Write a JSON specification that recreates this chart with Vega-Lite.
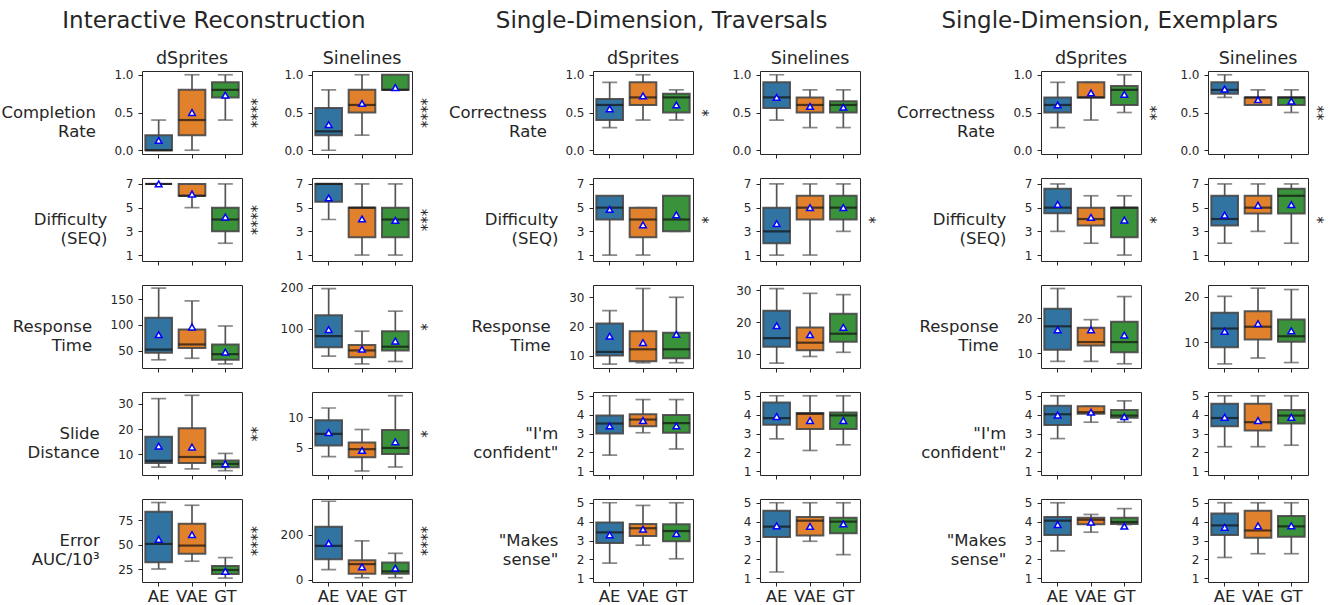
{
"$schema": "https://vega.github.io/schema/vega-lite/v6.json",
"padding": {"left": 0, "top": 9, "right": 2, "bottom": 2},
"spacing": 19,
"datasets": {"b": [
{"k":"1d1","m":"AE","lo":0,"q1":0,"med":0,"q3":0.2,"hi":0.4,"mean":0.13},
{"k":"1d1","m":"VAE","lo":0,"q1":0.2,"med":0.4,"q3":0.8,"hi":1.0,"mean":0.5},
{"k":"1d1","m":"GT","lo":0.4,"q1":0.7,"med":0.8,"q3":0.9,"hi":1.0,"mean":0.73},
{"k":"1s1","m":"AE","lo":0,"q1":0.2,"med":0.25,"q3":0.56,"hi":0.8,"mean":0.34},
{"k":"1s1","m":"VAE","lo":0.2,"q1":0.5,"med":0.6,"q3":0.8,"hi":1.0,"mean":0.62},
{"k":"1s1","m":"GT","lo":0.8,"q1":0.8,"med":0.8,"q3":1.0,"hi":1.0,"mean":0.83},
{"k":"1d2","m":"AE","lo":7,"q1":7,"med":7,"q3":7,"hi":7,"mean":7},
{"k":"1d2","m":"VAE","lo":5,"q1":6,"med":6,"q3":7,"hi":7,"mean":6.15},
{"k":"1d2","m":"GT","lo":2,"q1":3,"med":4,"q3":5,"hi":7,"mean":4.2},
{"k":"1s2","m":"AE","lo":4,"q1":5.5,"med":7,"q3":7,"hi":7,"mean":5.82},
{"k":"1s2","m":"VAE","lo":1,"q1":2.5,"med":5,"q3":5,"hi":7,"mean":4.05},
{"k":"1s2","m":"GT","lo":1,"q1":2.5,"med":4,"q3":5,"hi":7,"mean":3.92},
{"k":"1d3","m":"AE","lo":32,"q1":46,"med":52,"q3":114,"hi":172,"mean":81},
{"k":"1d3","m":"VAE","lo":35,"q1":55,"med":62,"q3":91,"hi":147,"mean":96},
{"k":"1d3","m":"GT","lo":24,"q1":32,"med":43,"q3":62,"hi":98,"mean":47},
{"k":"1s3","m":"AE","lo":33,"q1":55,"med":82,"q3":133,"hi":198,"mean":98},
{"k":"1s3","m":"VAE","lo":14,"q1":30,"med":47,"q3":60,"hi":94,"mean":50},
{"k":"1s3","m":"GT","lo":20,"q1":47,"med":56,"q3":94,"hi":143,"mean":70},
{"k":"1d4","m":"AE","lo":5,"q1":6.6,"med":7.5,"q3":17,"hi":32,"mean":13.3},
{"k":"1d4","m":"VAE","lo":4.3,"q1":6.6,"med":9,"q3":20.3,"hi":33.3,"mean":12.9},
{"k":"1d4","m":"GT","lo":3.6,"q1":5,"med":6.3,"q3":7.6,"hi":10.4,"mean":6.3},
{"k":"1s4","m":"AE","lo":3.6,"q1":5.4,"med":7.3,"q3":9.5,"hi":11.5,"mean":7.5},
{"k":"1s4","m":"VAE","lo":1.25,"q1":3.5,"med":4.8,"q3":5.9,"hi":8,"mean":4.6},
{"k":"1s4","m":"GT","lo":1.9,"q1":4,"med":5,"q3":7.9,"hi":13.5,"mean":6},
{"k":"1d5","m":"AE","lo":25.3,"q1":32.3,"med":51,"q3":84,"hi":93.4,"mean":55.8},
{"k":"1d5","m":"VAE","lo":33.3,"q1":41,"med":49.3,"q3":71.6,"hi":90.6,"mean":60.5},
{"k":"1d5","m":"GT","lo":16,"q1":20.2,"med":24.3,"q3":28.4,"hi":37,"mean":23},
{"k":"1s5","m":"AE","lo":46,"q1":92,"med":151,"q3":235,"hi":348,"mean":163},
{"k":"1s5","m":"VAE","lo":10,"q1":27,"med":70,"q3":87,"hi":173,"mean":58},
{"k":"1s5","m":"GT","lo":10,"q1":28,"med":38,"q3":77,"hi":118,"mean":52},
{"k":"2d1","m":"AE","lo":0.3,"q1":0.4,"med":0.6,"q3":0.68,"hi":0.9,"mean":0.55},
{"k":"2d1","m":"VAE","lo":0.4,"q1":0.6,"med":0.7,"q3":0.9,"hi":1.0,"mean":0.72},
{"k":"2d1","m":"GT","lo":0.4,"q1":0.5,"med":0.7,"q3":0.75,"hi":0.8,"mean":0.6},
{"k":"2s1","m":"AE","lo":0.4,"q1":0.56,"med":0.7,"q3":0.9,"hi":1.0,"mean":0.7},
{"k":"2s1","m":"VAE","lo":0.3,"q1":0.5,"med":0.6,"q3":0.7,"hi":0.8,"mean":0.58},
{"k":"2s1","m":"GT","lo":0.3,"q1":0.5,"med":0.6,"q3":0.65,"hi":0.8,"mean":0.57},
{"k":"2d2","m":"AE","lo":1,"q1":4,"med":5,"q3":6,"hi":6,"mean":4.85},
{"k":"2d2","m":"VAE","lo":1,"q1":2.5,"med":4,"q3":5,"hi":5,"mean":3.55},
{"k":"2d2","m":"GT","lo":3,"q1":3,"med":4,"q3":6,"hi":6,"mean":4.4},
{"k":"2s2","m":"AE","lo":1,"q1":2,"med":3,"q3":5,"hi":7,"mean":3.65},
{"k":"2s2","m":"VAE","lo":1,"q1":4,"med":5,"q3":6,"hi":7,"mean":5},
{"k":"2s2","m":"GT","lo":3,"q1":4,"med":5,"q3":6,"hi":7,"mean":5},
{"k":"2d3","m":"AE","lo":7.1,"q1":10.1,"med":11.3,"q3":21,"hi":25.4,"mean":16.7},
{"k":"2d3","m":"VAE","lo":7.6,"q1":8.1,"med":12.2,"q3":18.4,"hi":33,"mean":14.5},
{"k":"2d3","m":"GT","lo":7.6,"q1":9.1,"med":12.2,"q3":17.9,"hi":30,"mean":17.3},
{"k":"2s3","m":"AE","lo":7.2,"q1":12.3,"med":15,"q3":23.6,"hi":30.5,"mean":18.9},
{"k":"2s3","m":"VAE","lo":9.3,"q1":11.2,"med":13.6,"q3":18.3,"hi":29,"mean":16.1},
{"k":"2s3","m":"GT","lo":10.6,"q1":13.9,"med":16.4,"q3":22.6,"hi":28.6,"mean":18.4},
{"k":"2d4","m":"AE","lo":1.85,"q1":3,"med":3.53,"q3":3.95,"hi":5,"mean":3.4},
{"k":"2d4","m":"VAE","lo":3.04,"q1":3.38,"med":3.74,"q3":4.02,"hi":4.8,"mean":3.69},
{"k":"2d4","m":"GT","lo":2.18,"q1":3.04,"med":3.55,"q3":3.98,"hi":4.8,"mean":3.4},
{"k":"2s4","m":"AE","lo":2.72,"q1":3.47,"med":3.82,"q3":4.64,"hi":5,"mean":3.9},
{"k":"2s4","m":"VAE","lo":2.1,"q1":3.24,"med":4.04,"q3":4.09,"hi":5,"mean":3.69},
{"k":"2s4","m":"GT","lo":2.4,"q1":3.24,"med":3.96,"q3":4.11,"hi":5,"mean":3.69},
{"k":"2d5","m":"AE","lo":1.8,"q1":2.87,"med":3.43,"q3":3.96,"hi":5,"mean":3.3},
{"k":"2d5","m":"VAE","lo":2.75,"q1":3.24,"med":3.65,"q3":3.87,"hi":4.86,"mean":3.6},
{"k":"2d5","m":"GT","lo":2.03,"q1":2.96,"med":3.5,"q3":3.86,"hi":5,"mean":3.36},
{"k":"2s5","m":"AE","lo":1.33,"q1":3.18,"med":3.74,"q3":4.58,"hi":5,"mean":3.78},
{"k":"2s5","m":"VAE","lo":2.96,"q1":3.27,"med":4.05,"q3":4.24,"hi":5,"mean":3.75},
{"k":"2s5","m":"GT","lo":2.25,"q1":3.38,"med":4,"q3":4.2,"hi":5,"mean":3.88},
{"k":"3d1","m":"AE","lo":0.3,"q1":0.5,"med":0.6,"q3":0.7,"hi":0.9,"mean":0.6},
{"k":"3d1","m":"VAE","lo":0.4,"q1":0.7,"med":0.7,"q3":0.9,"hi":0.9,"mean":0.76},
{"k":"3d1","m":"GT","lo":0.5,"q1":0.6,"med":0.8,"q3":0.85,"hi":1.0,"mean":0.74},
{"k":"3s1","m":"AE","lo":0.7,"q1":0.75,"med":0.8,"q3":0.9,"hi":1.0,"mean":0.81},
{"k":"3s1","m":"VAE","lo":0.6,"q1":0.6,"med":0.7,"q3":0.7,"hi":0.8,"mean":0.67},
{"k":"3s1","m":"GT","lo":0.5,"q1":0.6,"med":0.7,"q3":0.7,"hi":0.8,"mean":0.65},
{"k":"3d2","m":"AE","lo":3,"q1":4.52,"med":5,"q3":6.6,"hi":7,"mean":5.28},
{"k":"3d2","m":"VAE","lo":2,"q1":3.5,"med":4.04,"q3":5,"hi":6,"mean":4.18},
{"k":"3d2","m":"GT","lo":1,"q1":2.5,"med":5,"q3":5,"hi":6,"mean":3.96},
{"k":"3s2","m":"AE","lo":2,"q1":3.5,"med":4.04,"q3":6,"hi":7,"mean":4.38},
{"k":"3s2","m":"VAE","lo":3,"q1":4.5,"med":5,"q3":6,"hi":7,"mean":5.2},
{"k":"3s2","m":"GT","lo":2,"q1":4.5,"med":6,"q3":6.6,"hi":7,"mean":5.25},
{"k":"3d3","m":"AE","lo":7.7,"q1":11,"med":17.7,"q3":22.7,"hi":28.5,"mean":16.7},
{"k":"3d3","m":"VAE","lo":7.7,"q1":12.2,"med":13.2,"q3":17.3,"hi":19.6,"mean":16.7},
{"k":"3d3","m":"GT","lo":7,"q1":10.3,"med":13.2,"q3":19,"hi":26.2,"mean":15.2},
{"k":"3s3","m":"AE","lo":5.2,"q1":8.9,"med":13,"q3":16.5,"hi":20.1,"mean":12.4},
{"k":"3s3","m":"VAE","lo":6.5,"q1":10.6,"med":13.4,"q3":16.8,"hi":21.9,"mean":14.1},
{"k":"3s3","m":"GT","lo":5.5,"q1":10.1,"med":11.3,"q3":15,"hi":21.6,"mean":12.5},
{"k":"3d4","m":"AE","lo":2.73,"q1":3.45,"med":4.02,"q3":4.47,"hi":5,"mean":3.98},
{"k":"3d4","m":"VAE","lo":3.6,"q1":4.05,"med":4.13,"q3":4.45,"hi":4.45,"mean":4.13},
{"k":"3d4","m":"GT","lo":3.6,"q1":3.84,"med":3.95,"q3":4.24,"hi":4.73,"mean":3.89},
{"k":"3s4","m":"AE","lo":2.3,"q1":3.38,"med":3.82,"q3":4.58,"hi":5,"mean":3.86},
{"k":"3s4","m":"VAE","lo":2.3,"q1":3.16,"med":3.6,"q3":4.58,"hi":5,"mean":3.69},
{"k":"3s4","m":"GT","lo":2.38,"q1":3.53,"med":3.95,"q3":4.24,"hi":5,"mean":3.86},
{"k":"3d5","m":"AE","lo":2.45,"q1":3.29,"med":4.05,"q3":4.25,"hi":5,"mean":3.84},
{"k":"3d5","m":"VAE","lo":3.44,"q1":3.86,"med":4.1,"q3":4.2,"hi":4.38,"mean":3.98},
{"k":"3d5","m":"GT","lo":3.84,"q1":3.87,"med":3.98,"q3":4.2,"hi":4.69,"mean":3.76},
{"k":"3s5","m":"AE","lo":2.1,"q1":3.29,"med":3.8,"q3":4.43,"hi":5,"mean":3.7},
{"k":"3s5","m":"VAE","lo":2.3,"q1":3.14,"med":3.53,"q3":4.58,"hi":5,"mean":3.78},
{"k":"3s5","m":"GT","lo":2.3,"q1":3.2,"med":3.75,"q3":4.3,"hi":5,"mean":3.78}
]},
"data": {"name": "b"},
"hconcat": [
{"title": {"text": "Interactive Reconstruction", "fontSize": 23, "anchor": "middle", "offset": 17},
 "columns": 2, "bounds": "flush", "spacing": {"row": 24, "column": 70},
 "concat": [
 {"width":100,"height":83,"title":{"text":"dSprites","fontSize":17.5,"offset":1},"transform":[{"filter":"datum.k==='1d1'"}],"encoding":{"x":{"field":"m","type":"nominal","sort":["AE","VAE","GT"],"scale":{"paddingInner":0,"paddingOuter":0},"axis":{"title":null,"labels":false}}},"layer":[
  {"mark":"rule","encoding":{"y":{"field":"lo","type":"quantitative","scale":{"domain":[-0.05,1.05],"nice":false,"zero":false},"axis":{"values":[0,0.5,1],"format":".1f","title":["Completion","Rate"]}},"y2":{"field":"hi"}}},
  {"mark":{"type":"bar","width":{"band":0.8}},"encoding":{"y":{"field":"q1","type":"quantitative","axis":null},"y2":{"field":"q3"},"color":{"field":"m","type":"nominal","scale":{"domain":["AE","VAE","GT"],"range":["#3274a1","#e1812c","#3a923a"]},"legend":null}}},
  {"mark":"tick","encoding":{"y":{"field":"lo","type":"quantitative","axis":null}}},
  {"mark":"tick","encoding":{"y":{"field":"hi","type":"quantitative","axis":null}}},
  {"mark":{"type":"tick","color":"#111111","size":27,"thickness":2.2},"encoding":{"y":{"field":"med","type":"quantitative","axis":null}}},
  {"mark":"point","encoding":{"y":{"field":"mean","type":"quantitative","axis":{"orient":"right","title":"****"}}}}
 ],"resolve":{"axis":{"y":"independent"}}},
 {"width":100,"height":83,"title":{"text":"Sinelines","fontSize":17.5,"offset":1},"transform":[{"filter":"datum.k==='1s1'"}],"encoding":{"x":{"field":"m","type":"nominal","sort":["AE","VAE","GT"],"scale":{"paddingInner":0,"paddingOuter":0},"axis":{"title":null,"labels":false}}},"layer":[
  {"mark":"rule","encoding":{"y":{"field":"lo","type":"quantitative","scale":{"domain":[-0.05,1.05],"nice":false,"zero":false},"axis":{"values":[0,0.5,1],"format":".1f","title":null}},"y2":{"field":"hi"}}},
  {"mark":{"type":"bar","width":{"band":0.8}},"encoding":{"y":{"field":"q1","type":"quantitative","axis":null},"y2":{"field":"q3"},"color":{"field":"m","type":"nominal","scale":{"domain":["AE","VAE","GT"],"range":["#3274a1","#e1812c","#3a923a"]},"legend":null}}},
  {"mark":"tick","encoding":{"y":{"field":"lo","type":"quantitative","axis":null}}},
  {"mark":"tick","encoding":{"y":{"field":"hi","type":"quantitative","axis":null}}},
  {"mark":{"type":"tick","color":"#111111","size":27,"thickness":2.2},"encoding":{"y":{"field":"med","type":"quantitative","axis":null}}},
  {"mark":"point","encoding":{"y":{"field":"mean","type":"quantitative","axis":{"orient":"right","title":"****"}}}}
 ],"resolve":{"axis":{"y":"independent"}}},
 {"width":100,"height":83,"transform":[{"filter":"datum.k==='1d2'"}],"encoding":{"x":{"field":"m","type":"nominal","sort":["AE","VAE","GT"],"scale":{"paddingInner":0,"paddingOuter":0},"axis":{"title":null,"labels":false}}},"layer":[
  {"mark":"rule","encoding":{"y":{"field":"lo","type":"quantitative","scale":{"domain":[0.5,7.5],"nice":false,"zero":false},"axis":{"values":[1,3,5,7],"title":["Difficulty","(SEQ)"]}},"y2":{"field":"hi"}}},
  {"mark":{"type":"bar","width":{"band":0.8}},"encoding":{"y":{"field":"q1","type":"quantitative","axis":null},"y2":{"field":"q3"},"color":{"field":"m","type":"nominal","scale":{"domain":["AE","VAE","GT"],"range":["#3274a1","#e1812c","#3a923a"]},"legend":null}}},
  {"mark":"tick","encoding":{"y":{"field":"lo","type":"quantitative","axis":null}}},
  {"mark":"tick","encoding":{"y":{"field":"hi","type":"quantitative","axis":null}}},
  {"mark":{"type":"tick","color":"#111111","size":27,"thickness":2.2},"encoding":{"y":{"field":"med","type":"quantitative","axis":null}}},
  {"mark":"point","encoding":{"y":{"field":"mean","type":"quantitative","axis":{"orient":"right","title":"****"}}}}
 ],"resolve":{"axis":{"y":"independent"}}},
 {"width":100,"height":83,"transform":[{"filter":"datum.k==='1s2'"}],"encoding":{"x":{"field":"m","type":"nominal","sort":["AE","VAE","GT"],"scale":{"paddingInner":0,"paddingOuter":0},"axis":{"title":null,"labels":false}}},"layer":[
  {"mark":"rule","encoding":{"y":{"field":"lo","type":"quantitative","scale":{"domain":[0.5,7.5],"nice":false,"zero":false},"axis":{"values":[1,3,5,7],"title":null}},"y2":{"field":"hi"}}},
  {"mark":{"type":"bar","width":{"band":0.8}},"encoding":{"y":{"field":"q1","type":"quantitative","axis":null},"y2":{"field":"q3"},"color":{"field":"m","type":"nominal","scale":{"domain":["AE","VAE","GT"],"range":["#3274a1","#e1812c","#3a923a"]},"legend":null}}},
  {"mark":"tick","encoding":{"y":{"field":"lo","type":"quantitative","axis":null}}},
  {"mark":"tick","encoding":{"y":{"field":"hi","type":"quantitative","axis":null}}},
  {"mark":{"type":"tick","color":"#111111","size":27,"thickness":2.2},"encoding":{"y":{"field":"med","type":"quantitative","axis":null}}},
  {"mark":"point","encoding":{"y":{"field":"mean","type":"quantitative","axis":{"orient":"right","title":"***"}}}}
 ],"resolve":{"axis":{"y":"independent"}}},
 {"width":100,"height":83,"transform":[{"filter":"datum.k==='1d3'"}],"encoding":{"x":{"field":"m","type":"nominal","sort":["AE","VAE","GT"],"scale":{"paddingInner":0,"paddingOuter":0},"axis":{"title":null,"labels":false}}},"layer":[
  {"mark":"rule","encoding":{"y":{"field":"lo","type":"quantitative","scale":{"domain":[16,178],"nice":false,"zero":false},"axis":{"values":[50,100,150],"title":["Response","Time"]}},"y2":{"field":"hi"}}},
  {"mark":{"type":"bar","width":{"band":0.8}},"encoding":{"y":{"field":"q1","type":"quantitative","axis":null},"y2":{"field":"q3"},"color":{"field":"m","type":"nominal","scale":{"domain":["AE","VAE","GT"],"range":["#3274a1","#e1812c","#3a923a"]},"legend":null}}},
  {"mark":"tick","encoding":{"y":{"field":"lo","type":"quantitative","axis":null}}},
  {"mark":"tick","encoding":{"y":{"field":"hi","type":"quantitative","axis":null}}},
  {"mark":{"type":"tick","color":"#111111","size":27,"thickness":2.2},"encoding":{"y":{"field":"med","type":"quantitative","axis":null}}},
  {"mark":"point","encoding":{"y":{"field":"mean","type":"quantitative","axis":null}}}
 ],"resolve":{"axis":{"y":"independent"}}},
 {"width":100,"height":83,"transform":[{"filter":"datum.k==='1s3'"}],"encoding":{"x":{"field":"m","type":"nominal","sort":["AE","VAE","GT"],"scale":{"paddingInner":0,"paddingOuter":0},"axis":{"title":null,"labels":false}}},"layer":[
  {"mark":"rule","encoding":{"y":{"field":"lo","type":"quantitative","scale":{"domain":[4,207],"nice":false,"zero":false},"axis":{"values":[100,200],"title":null}},"y2":{"field":"hi"}}},
  {"mark":{"type":"bar","width":{"band":0.8}},"encoding":{"y":{"field":"q1","type":"quantitative","axis":null},"y2":{"field":"q3"},"color":{"field":"m","type":"nominal","scale":{"domain":["AE","VAE","GT"],"range":["#3274a1","#e1812c","#3a923a"]},"legend":null}}},
  {"mark":"tick","encoding":{"y":{"field":"lo","type":"quantitative","axis":null}}},
  {"mark":"tick","encoding":{"y":{"field":"hi","type":"quantitative","axis":null}}},
  {"mark":{"type":"tick","color":"#111111","size":27,"thickness":2.2},"encoding":{"y":{"field":"med","type":"quantitative","axis":null}}},
  {"mark":"point","encoding":{"y":{"field":"mean","type":"quantitative","axis":{"orient":"right","title":"*"}}}}
 ],"resolve":{"axis":{"y":"independent"}}},
 {"width":100,"height":83,"transform":[{"filter":"datum.k==='1d4'"}],"encoding":{"x":{"field":"m","type":"nominal","sort":["AE","VAE","GT"],"scale":{"paddingInner":0,"paddingOuter":0},"axis":{"title":null,"labels":false}}},"layer":[
  {"mark":"rule","encoding":{"y":{"field":"lo","type":"quantitative","scale":{"domain":[1.9,34.6],"nice":false,"zero":false},"axis":{"values":[10,20,30],"title":["Slide","Distance"]}},"y2":{"field":"hi"}}},
  {"mark":{"type":"bar","width":{"band":0.8}},"encoding":{"y":{"field":"q1","type":"quantitative","axis":null},"y2":{"field":"q3"},"color":{"field":"m","type":"nominal","scale":{"domain":["AE","VAE","GT"],"range":["#3274a1","#e1812c","#3a923a"]},"legend":null}}},
  {"mark":"tick","encoding":{"y":{"field":"lo","type":"quantitative","axis":null}}},
  {"mark":"tick","encoding":{"y":{"field":"hi","type":"quantitative","axis":null}}},
  {"mark":{"type":"tick","color":"#111111","size":27,"thickness":2.2},"encoding":{"y":{"field":"med","type":"quantitative","axis":null}}},
  {"mark":"point","encoding":{"y":{"field":"mean","type":"quantitative","axis":{"orient":"right","title":"**"}}}}
 ],"resolve":{"axis":{"y":"independent"}}},
 {"width":100,"height":83,"transform":[{"filter":"datum.k==='1s4'"}],"encoding":{"x":{"field":"m","type":"nominal","sort":["AE","VAE","GT"],"scale":{"paddingInner":0,"paddingOuter":0},"axis":{"title":null,"labels":false}}},"layer":[
  {"mark":"rule","encoding":{"y":{"field":"lo","type":"quantitative","scale":{"domain":[0.6,14.1],"nice":false,"zero":false},"axis":{"values":[5,10],"title":null}},"y2":{"field":"hi"}}},
  {"mark":{"type":"bar","width":{"band":0.8}},"encoding":{"y":{"field":"q1","type":"quantitative","axis":null},"y2":{"field":"q3"},"color":{"field":"m","type":"nominal","scale":{"domain":["AE","VAE","GT"],"range":["#3274a1","#e1812c","#3a923a"]},"legend":null}}},
  {"mark":"tick","encoding":{"y":{"field":"lo","type":"quantitative","axis":null}}},
  {"mark":"tick","encoding":{"y":{"field":"hi","type":"quantitative","axis":null}}},
  {"mark":{"type":"tick","color":"#111111","size":27,"thickness":2.2},"encoding":{"y":{"field":"med","type":"quantitative","axis":null}}},
  {"mark":"point","encoding":{"y":{"field":"mean","type":"quantitative","axis":{"orient":"right","title":"*"}}}}
 ],"resolve":{"axis":{"y":"independent"}}},
 {"width":100,"height":83,"transform":[{"filter":"datum.k==='1d5'"}],"encoding":{"x":{"field":"m","type":"nominal","sort":["AE","VAE","GT"],"scale":{"paddingInner":0,"paddingOuter":0},"axis":{"title":null}}},"layer":[
  {"mark":"rule","encoding":{"y":{"field":"lo","type":"quantitative","scale":{"domain":[12,97],"nice":false,"zero":false},"axis":{"values":[25,50,75],"title":["Error","AUC/10³"]}},"y2":{"field":"hi"}}},
  {"mark":{"type":"bar","width":{"band":0.8}},"encoding":{"y":{"field":"q1","type":"quantitative","axis":null},"y2":{"field":"q3"},"color":{"field":"m","type":"nominal","scale":{"domain":["AE","VAE","GT"],"range":["#3274a1","#e1812c","#3a923a"]},"legend":null}}},
  {"mark":"tick","encoding":{"y":{"field":"lo","type":"quantitative","axis":null}}},
  {"mark":"tick","encoding":{"y":{"field":"hi","type":"quantitative","axis":null}}},
  {"mark":{"type":"tick","color":"#111111","size":27,"thickness":2.2},"encoding":{"y":{"field":"med","type":"quantitative","axis":null}}},
  {"mark":"point","encoding":{"y":{"field":"mean","type":"quantitative","axis":{"orient":"right","title":"****"}}}}
 ],"resolve":{"axis":{"y":"independent"}}},
 {"width":100,"height":83,"transform":[{"filter":"datum.k==='1s5'"}],"encoding":{"x":{"field":"m","type":"nominal","sort":["AE","VAE","GT"],"scale":{"paddingInner":0,"paddingOuter":0},"axis":{"title":null}}},"layer":[
  {"mark":"rule","encoding":{"y":{"field":"lo","type":"quantitative","scale":{"domain":[-9,358],"nice":false,"zero":false},"axis":{"values":[0,200],"title":null}},"y2":{"field":"hi"}}},
  {"mark":{"type":"bar","width":{"band":0.8}},"encoding":{"y":{"field":"q1","type":"quantitative","axis":null},"y2":{"field":"q3"},"color":{"field":"m","type":"nominal","scale":{"domain":["AE","VAE","GT"],"range":["#3274a1","#e1812c","#3a923a"]},"legend":null}}},
  {"mark":"tick","encoding":{"y":{"field":"lo","type":"quantitative","axis":null}}},
  {"mark":"tick","encoding":{"y":{"field":"hi","type":"quantitative","axis":null}}},
  {"mark":{"type":"tick","color":"#111111","size":27,"thickness":2.2},"encoding":{"y":{"field":"med","type":"quantitative","axis":null}}},
  {"mark":"point","encoding":{"y":{"field":"mean","type":"quantitative","axis":{"orient":"right","title":"****"}}}}
 ],"resolve":{"axis":{"y":"independent"}}}
 ]},
{"title": {"text": "Single-Dimension, Traversals", "fontSize": 23, "anchor": "middle", "offset": 17},
 "columns": 2, "bounds": "flush", "spacing": {"row": 24, "column": 67},
 "concat": [
 {"width":100,"height":83,"title":{"text":"dSprites","fontSize":17.5,"offset":1},"transform":[{"filter":"datum.k==='2d1'"}],"encoding":{"x":{"field":"m","type":"nominal","sort":["AE","VAE","GT"],"scale":{"paddingInner":0,"paddingOuter":0},"axis":{"title":null,"labels":false}}},"layer":[
  {"mark":"rule","encoding":{"y":{"field":"lo","type":"quantitative","scale":{"domain":[-0.05,1.05],"nice":false,"zero":false},"axis":{"values":[0,0.5,1],"format":".1f","title":["Correctness","Rate"]}},"y2":{"field":"hi"}}},
  {"mark":{"type":"bar","width":{"band":0.8}},"encoding":{"y":{"field":"q1","type":"quantitative","axis":null},"y2":{"field":"q3"},"color":{"field":"m","type":"nominal","scale":{"domain":["AE","VAE","GT"],"range":["#3274a1","#e1812c","#3a923a"]},"legend":null}}},
  {"mark":"tick","encoding":{"y":{"field":"lo","type":"quantitative","axis":null}}},
  {"mark":"tick","encoding":{"y":{"field":"hi","type":"quantitative","axis":null}}},
  {"mark":{"type":"tick","color":"#111111","size":27,"thickness":2.2},"encoding":{"y":{"field":"med","type":"quantitative","axis":null}}},
  {"mark":"point","encoding":{"y":{"field":"mean","type":"quantitative","axis":{"orient":"right","title":"*"}}}}
 ],"resolve":{"axis":{"y":"independent"}}},
 {"width":100,"height":83,"title":{"text":"Sinelines","fontSize":17.5,"offset":1},"transform":[{"filter":"datum.k==='2s1'"}],"encoding":{"x":{"field":"m","type":"nominal","sort":["AE","VAE","GT"],"scale":{"paddingInner":0,"paddingOuter":0},"axis":{"title":null,"labels":false}}},"layer":[
  {"mark":"rule","encoding":{"y":{"field":"lo","type":"quantitative","scale":{"domain":[-0.05,1.05],"nice":false,"zero":false},"axis":{"values":[0,0.5,1],"format":".1f","title":null}},"y2":{"field":"hi"}}},
  {"mark":{"type":"bar","width":{"band":0.8}},"encoding":{"y":{"field":"q1","type":"quantitative","axis":null},"y2":{"field":"q3"},"color":{"field":"m","type":"nominal","scale":{"domain":["AE","VAE","GT"],"range":["#3274a1","#e1812c","#3a923a"]},"legend":null}}},
  {"mark":"tick","encoding":{"y":{"field":"lo","type":"quantitative","axis":null}}},
  {"mark":"tick","encoding":{"y":{"field":"hi","type":"quantitative","axis":null}}},
  {"mark":{"type":"tick","color":"#111111","size":27,"thickness":2.2},"encoding":{"y":{"field":"med","type":"quantitative","axis":null}}},
  {"mark":"point","encoding":{"y":{"field":"mean","type":"quantitative","axis":null}}}
 ],"resolve":{"axis":{"y":"independent"}}},
 {"width":100,"height":83,"transform":[{"filter":"datum.k==='2d2'"}],"encoding":{"x":{"field":"m","type":"nominal","sort":["AE","VAE","GT"],"scale":{"paddingInner":0,"paddingOuter":0},"axis":{"title":null,"labels":false}}},"layer":[
  {"mark":"rule","encoding":{"y":{"field":"lo","type":"quantitative","scale":{"domain":[0.5,7.5],"nice":false,"zero":false},"axis":{"values":[1,3,5,7],"title":["Difficulty","(SEQ)"]}},"y2":{"field":"hi"}}},
  {"mark":{"type":"bar","width":{"band":0.8}},"encoding":{"y":{"field":"q1","type":"quantitative","axis":null},"y2":{"field":"q3"},"color":{"field":"m","type":"nominal","scale":{"domain":["AE","VAE","GT"],"range":["#3274a1","#e1812c","#3a923a"]},"legend":null}}},
  {"mark":"tick","encoding":{"y":{"field":"lo","type":"quantitative","axis":null}}},
  {"mark":"tick","encoding":{"y":{"field":"hi","type":"quantitative","axis":null}}},
  {"mark":{"type":"tick","color":"#111111","size":27,"thickness":2.2},"encoding":{"y":{"field":"med","type":"quantitative","axis":null}}},
  {"mark":"point","encoding":{"y":{"field":"mean","type":"quantitative","axis":{"orient":"right","title":"*"}}}}
 ],"resolve":{"axis":{"y":"independent"}}},
 {"width":100,"height":83,"transform":[{"filter":"datum.k==='2s2'"}],"encoding":{"x":{"field":"m","type":"nominal","sort":["AE","VAE","GT"],"scale":{"paddingInner":0,"paddingOuter":0},"axis":{"title":null,"labels":false}}},"layer":[
  {"mark":"rule","encoding":{"y":{"field":"lo","type":"quantitative","scale":{"domain":[0.5,7.5],"nice":false,"zero":false},"axis":{"values":[1,3,5,7],"title":null}},"y2":{"field":"hi"}}},
  {"mark":{"type":"bar","width":{"band":0.8}},"encoding":{"y":{"field":"q1","type":"quantitative","axis":null},"y2":{"field":"q3"},"color":{"field":"m","type":"nominal","scale":{"domain":["AE","VAE","GT"],"range":["#3274a1","#e1812c","#3a923a"]},"legend":null}}},
  {"mark":"tick","encoding":{"y":{"field":"lo","type":"quantitative","axis":null}}},
  {"mark":"tick","encoding":{"y":{"field":"hi","type":"quantitative","axis":null}}},
  {"mark":{"type":"tick","color":"#111111","size":27,"thickness":2.2},"encoding":{"y":{"field":"med","type":"quantitative","axis":null}}},
  {"mark":"point","encoding":{"y":{"field":"mean","type":"quantitative","axis":{"orient":"right","title":"*"}}}}
 ],"resolve":{"axis":{"y":"independent"}}},
 {"width":100,"height":83,"transform":[{"filter":"datum.k==='2d3'"}],"encoding":{"x":{"field":"m","type":"nominal","sort":["AE","VAE","GT"],"scale":{"paddingInner":0,"paddingOuter":0},"axis":{"title":null,"labels":false}}},"layer":[
  {"mark":"rule","encoding":{"y":{"field":"lo","type":"quantitative","scale":{"domain":[5.8,34.2],"nice":false,"zero":false},"axis":{"values":[10,20,30],"title":["Response","Time"]}},"y2":{"field":"hi"}}},
  {"mark":{"type":"bar","width":{"band":0.8}},"encoding":{"y":{"field":"q1","type":"quantitative","axis":null},"y2":{"field":"q3"},"color":{"field":"m","type":"nominal","scale":{"domain":["AE","VAE","GT"],"range":["#3274a1","#e1812c","#3a923a"]},"legend":null}}},
  {"mark":"tick","encoding":{"y":{"field":"lo","type":"quantitative","axis":null}}},
  {"mark":"tick","encoding":{"y":{"field":"hi","type":"quantitative","axis":null}}},
  {"mark":{"type":"tick","color":"#111111","size":27,"thickness":2.2},"encoding":{"y":{"field":"med","type":"quantitative","axis":null}}},
  {"mark":"point","encoding":{"y":{"field":"mean","type":"quantitative","axis":null}}}
 ],"resolve":{"axis":{"y":"independent"}}},
 {"width":100,"height":83,"transform":[{"filter":"datum.k==='2s3'"}],"encoding":{"x":{"field":"m","type":"nominal","sort":["AE","VAE","GT"],"scale":{"paddingInner":0,"paddingOuter":0},"axis":{"title":null,"labels":false}}},"layer":[
  {"mark":"rule","encoding":{"y":{"field":"lo","type":"quantitative","scale":{"domain":[5.7,31.6],"nice":false,"zero":false},"axis":{"values":[10,20,30],"title":null}},"y2":{"field":"hi"}}},
  {"mark":{"type":"bar","width":{"band":0.8}},"encoding":{"y":{"field":"q1","type":"quantitative","axis":null},"y2":{"field":"q3"},"color":{"field":"m","type":"nominal","scale":{"domain":["AE","VAE","GT"],"range":["#3274a1","#e1812c","#3a923a"]},"legend":null}}},
  {"mark":"tick","encoding":{"y":{"field":"lo","type":"quantitative","axis":null}}},
  {"mark":"tick","encoding":{"y":{"field":"hi","type":"quantitative","axis":null}}},
  {"mark":{"type":"tick","color":"#111111","size":27,"thickness":2.2},"encoding":{"y":{"field":"med","type":"quantitative","axis":null}}},
  {"mark":"point","encoding":{"y":{"field":"mean","type":"quantitative","axis":null}}}
 ],"resolve":{"axis":{"y":"independent"}}},
 {"width":100,"height":83,"transform":[{"filter":"datum.k==='2d4'"}],"encoding":{"x":{"field":"m","type":"nominal","sort":["AE","VAE","GT"],"scale":{"paddingInner":0,"paddingOuter":0},"axis":{"title":null,"labels":false}}},"layer":[
  {"mark":"rule","encoding":{"y":{"field":"lo","type":"quantitative","scale":{"domain":[0.8,5.2],"nice":false,"zero":false},"axis":{"values":[1,2,3,4,5],"title":["\"I'm","confident\""]}},"y2":{"field":"hi"}}},
  {"mark":{"type":"bar","width":{"band":0.8}},"encoding":{"y":{"field":"q1","type":"quantitative","axis":null},"y2":{"field":"q3"},"color":{"field":"m","type":"nominal","scale":{"domain":["AE","VAE","GT"],"range":["#3274a1","#e1812c","#3a923a"]},"legend":null}}},
  {"mark":"tick","encoding":{"y":{"field":"lo","type":"quantitative","axis":null}}},
  {"mark":"tick","encoding":{"y":{"field":"hi","type":"quantitative","axis":null}}},
  {"mark":{"type":"tick","color":"#111111","size":27,"thickness":2.2},"encoding":{"y":{"field":"med","type":"quantitative","axis":null}}},
  {"mark":"point","encoding":{"y":{"field":"mean","type":"quantitative","axis":null}}}
 ],"resolve":{"axis":{"y":"independent"}}},
 {"width":100,"height":83,"transform":[{"filter":"datum.k==='2s4'"}],"encoding":{"x":{"field":"m","type":"nominal","sort":["AE","VAE","GT"],"scale":{"paddingInner":0,"paddingOuter":0},"axis":{"title":null,"labels":false}}},"layer":[
  {"mark":"rule","encoding":{"y":{"field":"lo","type":"quantitative","scale":{"domain":[0.8,5.2],"nice":false,"zero":false},"axis":{"values":[1,2,3,4,5],"title":null}},"y2":{"field":"hi"}}},
  {"mark":{"type":"bar","width":{"band":0.8}},"encoding":{"y":{"field":"q1","type":"quantitative","axis":null},"y2":{"field":"q3"},"color":{"field":"m","type":"nominal","scale":{"domain":["AE","VAE","GT"],"range":["#3274a1","#e1812c","#3a923a"]},"legend":null}}},
  {"mark":"tick","encoding":{"y":{"field":"lo","type":"quantitative","axis":null}}},
  {"mark":"tick","encoding":{"y":{"field":"hi","type":"quantitative","axis":null}}},
  {"mark":{"type":"tick","color":"#111111","size":27,"thickness":2.2},"encoding":{"y":{"field":"med","type":"quantitative","axis":null}}},
  {"mark":"point","encoding":{"y":{"field":"mean","type":"quantitative","axis":null}}}
 ],"resolve":{"axis":{"y":"independent"}}},
 {"width":100,"height":83,"transform":[{"filter":"datum.k==='2d5'"}],"encoding":{"x":{"field":"m","type":"nominal","sort":["AE","VAE","GT"],"scale":{"paddingInner":0,"paddingOuter":0},"axis":{"title":null}}},"layer":[
  {"mark":"rule","encoding":{"y":{"field":"lo","type":"quantitative","scale":{"domain":[0.8,5.2],"nice":false,"zero":false},"axis":{"values":[1,2,3,4,5],"title":["\"Makes","sense\""]}},"y2":{"field":"hi"}}},
  {"mark":{"type":"bar","width":{"band":0.8}},"encoding":{"y":{"field":"q1","type":"quantitative","axis":null},"y2":{"field":"q3"},"color":{"field":"m","type":"nominal","scale":{"domain":["AE","VAE","GT"],"range":["#3274a1","#e1812c","#3a923a"]},"legend":null}}},
  {"mark":"tick","encoding":{"y":{"field":"lo","type":"quantitative","axis":null}}},
  {"mark":"tick","encoding":{"y":{"field":"hi","type":"quantitative","axis":null}}},
  {"mark":{"type":"tick","color":"#111111","size":27,"thickness":2.2},"encoding":{"y":{"field":"med","type":"quantitative","axis":null}}},
  {"mark":"point","encoding":{"y":{"field":"mean","type":"quantitative","axis":null}}}
 ],"resolve":{"axis":{"y":"independent"}}},
 {"width":100,"height":83,"transform":[{"filter":"datum.k==='2s5'"}],"encoding":{"x":{"field":"m","type":"nominal","sort":["AE","VAE","GT"],"scale":{"paddingInner":0,"paddingOuter":0},"axis":{"title":null}}},"layer":[
  {"mark":"rule","encoding":{"y":{"field":"lo","type":"quantitative","scale":{"domain":[0.8,5.2],"nice":false,"zero":false},"axis":{"values":[1,2,3,4,5],"title":null}},"y2":{"field":"hi"}}},
  {"mark":{"type":"bar","width":{"band":0.8}},"encoding":{"y":{"field":"q1","type":"quantitative","axis":null},"y2":{"field":"q3"},"color":{"field":"m","type":"nominal","scale":{"domain":["AE","VAE","GT"],"range":["#3274a1","#e1812c","#3a923a"]},"legend":null}}},
  {"mark":"tick","encoding":{"y":{"field":"lo","type":"quantitative","axis":null}}},
  {"mark":"tick","encoding":{"y":{"field":"hi","type":"quantitative","axis":null}}},
  {"mark":{"type":"tick","color":"#111111","size":27,"thickness":2.2},"encoding":{"y":{"field":"med","type":"quantitative","axis":null}}},
  {"mark":"point","encoding":{"y":{"field":"mean","type":"quantitative","axis":null}}}
 ],"resolve":{"axis":{"y":"independent"}}}
 ]},
{"title": {"text": "Single-Dimension, Exemplars", "fontSize": 23, "anchor": "middle", "offset": 17},
 "columns": 2, "bounds": "flush", "spacing": {"row": 24, "column": 67},
 "concat": [
 {"width":100,"height":83,"title":{"text":"dSprites","fontSize":17.5,"offset":1},"transform":[{"filter":"datum.k==='3d1'"}],"encoding":{"x":{"field":"m","type":"nominal","sort":["AE","VAE","GT"],"scale":{"paddingInner":0,"paddingOuter":0},"axis":{"title":null,"labels":false}}},"layer":[
  {"mark":"rule","encoding":{"y":{"field":"lo","type":"quantitative","scale":{"domain":[-0.05,1.05],"nice":false,"zero":false},"axis":{"values":[0,0.5,1],"format":".1f","title":["Correctness","Rate"]}},"y2":{"field":"hi"}}},
  {"mark":{"type":"bar","width":{"band":0.8}},"encoding":{"y":{"field":"q1","type":"quantitative","axis":null},"y2":{"field":"q3"},"color":{"field":"m","type":"nominal","scale":{"domain":["AE","VAE","GT"],"range":["#3274a1","#e1812c","#3a923a"]},"legend":null}}},
  {"mark":"tick","encoding":{"y":{"field":"lo","type":"quantitative","axis":null}}},
  {"mark":"tick","encoding":{"y":{"field":"hi","type":"quantitative","axis":null}}},
  {"mark":{"type":"tick","color":"#111111","size":27,"thickness":2.2},"encoding":{"y":{"field":"med","type":"quantitative","axis":null}}},
  {"mark":"point","encoding":{"y":{"field":"mean","type":"quantitative","axis":{"orient":"right","title":"**"}}}}
 ],"resolve":{"axis":{"y":"independent"}}},
 {"width":100,"height":83,"title":{"text":"Sinelines","fontSize":17.5,"offset":1},"transform":[{"filter":"datum.k==='3s1'"}],"encoding":{"x":{"field":"m","type":"nominal","sort":["AE","VAE","GT"],"scale":{"paddingInner":0,"paddingOuter":0},"axis":{"title":null,"labels":false}}},"layer":[
  {"mark":"rule","encoding":{"y":{"field":"lo","type":"quantitative","scale":{"domain":[-0.05,1.05],"nice":false,"zero":false},"axis":{"values":[0,0.5,1],"format":".1f","title":null}},"y2":{"field":"hi"}}},
  {"mark":{"type":"bar","width":{"band":0.8}},"encoding":{"y":{"field":"q1","type":"quantitative","axis":null},"y2":{"field":"q3"},"color":{"field":"m","type":"nominal","scale":{"domain":["AE","VAE","GT"],"range":["#3274a1","#e1812c","#3a923a"]},"legend":null}}},
  {"mark":"tick","encoding":{"y":{"field":"lo","type":"quantitative","axis":null}}},
  {"mark":"tick","encoding":{"y":{"field":"hi","type":"quantitative","axis":null}}},
  {"mark":{"type":"tick","color":"#111111","size":27,"thickness":2.2},"encoding":{"y":{"field":"med","type":"quantitative","axis":null}}},
  {"mark":"point","encoding":{"y":{"field":"mean","type":"quantitative","axis":{"orient":"right","title":"**"}}}}
 ],"resolve":{"axis":{"y":"independent"}}},
 {"width":100,"height":83,"transform":[{"filter":"datum.k==='3d2'"}],"encoding":{"x":{"field":"m","type":"nominal","sort":["AE","VAE","GT"],"scale":{"paddingInner":0,"paddingOuter":0},"axis":{"title":null,"labels":false}}},"layer":[
  {"mark":"rule","encoding":{"y":{"field":"lo","type":"quantitative","scale":{"domain":[0.5,7.5],"nice":false,"zero":false},"axis":{"values":[1,3,5,7],"title":["Difficulty","(SEQ)"]}},"y2":{"field":"hi"}}},
  {"mark":{"type":"bar","width":{"band":0.8}},"encoding":{"y":{"field":"q1","type":"quantitative","axis":null},"y2":{"field":"q3"},"color":{"field":"m","type":"nominal","scale":{"domain":["AE","VAE","GT"],"range":["#3274a1","#e1812c","#3a923a"]},"legend":null}}},
  {"mark":"tick","encoding":{"y":{"field":"lo","type":"quantitative","axis":null}}},
  {"mark":"tick","encoding":{"y":{"field":"hi","type":"quantitative","axis":null}}},
  {"mark":{"type":"tick","color":"#111111","size":27,"thickness":2.2},"encoding":{"y":{"field":"med","type":"quantitative","axis":null}}},
  {"mark":"point","encoding":{"y":{"field":"mean","type":"quantitative","axis":{"orient":"right","title":"*"}}}}
 ],"resolve":{"axis":{"y":"independent"}}},
 {"width":100,"height":83,"transform":[{"filter":"datum.k==='3s2'"}],"encoding":{"x":{"field":"m","type":"nominal","sort":["AE","VAE","GT"],"scale":{"paddingInner":0,"paddingOuter":0},"axis":{"title":null,"labels":false}}},"layer":[
  {"mark":"rule","encoding":{"y":{"field":"lo","type":"quantitative","scale":{"domain":[0.5,7.5],"nice":false,"zero":false},"axis":{"values":[1,3,5,7],"title":null}},"y2":{"field":"hi"}}},
  {"mark":{"type":"bar","width":{"band":0.8}},"encoding":{"y":{"field":"q1","type":"quantitative","axis":null},"y2":{"field":"q3"},"color":{"field":"m","type":"nominal","scale":{"domain":["AE","VAE","GT"],"range":["#3274a1","#e1812c","#3a923a"]},"legend":null}}},
  {"mark":"tick","encoding":{"y":{"field":"lo","type":"quantitative","axis":null}}},
  {"mark":"tick","encoding":{"y":{"field":"hi","type":"quantitative","axis":null}}},
  {"mark":{"type":"tick","color":"#111111","size":27,"thickness":2.2},"encoding":{"y":{"field":"med","type":"quantitative","axis":null}}},
  {"mark":"point","encoding":{"y":{"field":"mean","type":"quantitative","axis":{"orient":"right","title":"*"}}}}
 ],"resolve":{"axis":{"y":"independent"}}},
 {"width":100,"height":83,"transform":[{"filter":"datum.k==='3d3'"}],"encoding":{"x":{"field":"m","type":"nominal","sort":["AE","VAE","GT"],"scale":{"paddingInner":0,"paddingOuter":0},"axis":{"title":null,"labels":false}}},"layer":[
  {"mark":"rule","encoding":{"y":{"field":"lo","type":"quantitative","scale":{"domain":[5.8,29.5],"nice":false,"zero":false},"axis":{"values":[10,20],"title":["Response","Time"]}},"y2":{"field":"hi"}}},
  {"mark":{"type":"bar","width":{"band":0.8}},"encoding":{"y":{"field":"q1","type":"quantitative","axis":null},"y2":{"field":"q3"},"color":{"field":"m","type":"nominal","scale":{"domain":["AE","VAE","GT"],"range":["#3274a1","#e1812c","#3a923a"]},"legend":null}}},
  {"mark":"tick","encoding":{"y":{"field":"lo","type":"quantitative","axis":null}}},
  {"mark":"tick","encoding":{"y":{"field":"hi","type":"quantitative","axis":null}}},
  {"mark":{"type":"tick","color":"#111111","size":27,"thickness":2.2},"encoding":{"y":{"field":"med","type":"quantitative","axis":null}}},
  {"mark":"point","encoding":{"y":{"field":"mean","type":"quantitative","axis":null}}}
 ],"resolve":{"axis":{"y":"independent"}}},
 {"width":100,"height":83,"transform":[{"filter":"datum.k==='3s3'"}],"encoding":{"x":{"field":"m","type":"nominal","sort":["AE","VAE","GT"],"scale":{"paddingInner":0,"paddingOuter":0},"axis":{"title":null,"labels":false}}},"layer":[
  {"mark":"rule","encoding":{"y":{"field":"lo","type":"quantitative","scale":{"domain":[4.3,22.6],"nice":false,"zero":false},"axis":{"values":[10,20],"title":null}},"y2":{"field":"hi"}}},
  {"mark":{"type":"bar","width":{"band":0.8}},"encoding":{"y":{"field":"q1","type":"quantitative","axis":null},"y2":{"field":"q3"},"color":{"field":"m","type":"nominal","scale":{"domain":["AE","VAE","GT"],"range":["#3274a1","#e1812c","#3a923a"]},"legend":null}}},
  {"mark":"tick","encoding":{"y":{"field":"lo","type":"quantitative","axis":null}}},
  {"mark":"tick","encoding":{"y":{"field":"hi","type":"quantitative","axis":null}}},
  {"mark":{"type":"tick","color":"#111111","size":27,"thickness":2.2},"encoding":{"y":{"field":"med","type":"quantitative","axis":null}}},
  {"mark":"point","encoding":{"y":{"field":"mean","type":"quantitative","axis":null}}}
 ],"resolve":{"axis":{"y":"independent"}}},
 {"width":100,"height":83,"transform":[{"filter":"datum.k==='3d4'"}],"encoding":{"x":{"field":"m","type":"nominal","sort":["AE","VAE","GT"],"scale":{"paddingInner":0,"paddingOuter":0},"axis":{"title":null,"labels":false}}},"layer":[
  {"mark":"rule","encoding":{"y":{"field":"lo","type":"quantitative","scale":{"domain":[0.8,5.2],"nice":false,"zero":false},"axis":{"values":[1,2,3,4,5],"title":["\"I'm","confident\""]}},"y2":{"field":"hi"}}},
  {"mark":{"type":"bar","width":{"band":0.8}},"encoding":{"y":{"field":"q1","type":"quantitative","axis":null},"y2":{"field":"q3"},"color":{"field":"m","type":"nominal","scale":{"domain":["AE","VAE","GT"],"range":["#3274a1","#e1812c","#3a923a"]},"legend":null}}},
  {"mark":"tick","encoding":{"y":{"field":"lo","type":"quantitative","axis":null}}},
  {"mark":"tick","encoding":{"y":{"field":"hi","type":"quantitative","axis":null}}},
  {"mark":{"type":"tick","color":"#111111","size":27,"thickness":2.2},"encoding":{"y":{"field":"med","type":"quantitative","axis":null}}},
  {"mark":"point","encoding":{"y":{"field":"mean","type":"quantitative","axis":null}}}
 ],"resolve":{"axis":{"y":"independent"}}},
 {"width":100,"height":83,"transform":[{"filter":"datum.k==='3s4'"}],"encoding":{"x":{"field":"m","type":"nominal","sort":["AE","VAE","GT"],"scale":{"paddingInner":0,"paddingOuter":0},"axis":{"title":null,"labels":false}}},"layer":[
  {"mark":"rule","encoding":{"y":{"field":"lo","type":"quantitative","scale":{"domain":[0.8,5.2],"nice":false,"zero":false},"axis":{"values":[1,2,3,4,5],"title":null}},"y2":{"field":"hi"}}},
  {"mark":{"type":"bar","width":{"band":0.8}},"encoding":{"y":{"field":"q1","type":"quantitative","axis":null},"y2":{"field":"q3"},"color":{"field":"m","type":"nominal","scale":{"domain":["AE","VAE","GT"],"range":["#3274a1","#e1812c","#3a923a"]},"legend":null}}},
  {"mark":"tick","encoding":{"y":{"field":"lo","type":"quantitative","axis":null}}},
  {"mark":"tick","encoding":{"y":{"field":"hi","type":"quantitative","axis":null}}},
  {"mark":{"type":"tick","color":"#111111","size":27,"thickness":2.2},"encoding":{"y":{"field":"med","type":"quantitative","axis":null}}},
  {"mark":"point","encoding":{"y":{"field":"mean","type":"quantitative","axis":null}}}
 ],"resolve":{"axis":{"y":"independent"}}},
 {"width":100,"height":83,"transform":[{"filter":"datum.k==='3d5'"}],"encoding":{"x":{"field":"m","type":"nominal","sort":["AE","VAE","GT"],"scale":{"paddingInner":0,"paddingOuter":0},"axis":{"title":null}}},"layer":[
  {"mark":"rule","encoding":{"y":{"field":"lo","type":"quantitative","scale":{"domain":[0.8,5.2],"nice":false,"zero":false},"axis":{"values":[1,2,3,4,5],"title":["\"Makes","sense\""]}},"y2":{"field":"hi"}}},
  {"mark":{"type":"bar","width":{"band":0.8}},"encoding":{"y":{"field":"q1","type":"quantitative","axis":null},"y2":{"field":"q3"},"color":{"field":"m","type":"nominal","scale":{"domain":["AE","VAE","GT"],"range":["#3274a1","#e1812c","#3a923a"]},"legend":null}}},
  {"mark":"tick","encoding":{"y":{"field":"lo","type":"quantitative","axis":null}}},
  {"mark":"tick","encoding":{"y":{"field":"hi","type":"quantitative","axis":null}}},
  {"mark":{"type":"tick","color":"#111111","size":27,"thickness":2.2},"encoding":{"y":{"field":"med","type":"quantitative","axis":null}}},
  {"mark":"point","encoding":{"y":{"field":"mean","type":"quantitative","axis":null}}}
 ],"resolve":{"axis":{"y":"independent"}}},
 {"width":100,"height":83,"transform":[{"filter":"datum.k==='3s5'"}],"encoding":{"x":{"field":"m","type":"nominal","sort":["AE","VAE","GT"],"scale":{"paddingInner":0,"paddingOuter":0},"axis":{"title":null}}},"layer":[
  {"mark":"rule","encoding":{"y":{"field":"lo","type":"quantitative","scale":{"domain":[0.8,5.2],"nice":false,"zero":false},"axis":{"values":[1,2,3,4,5],"title":null}},"y2":{"field":"hi"}}},
  {"mark":{"type":"bar","width":{"band":0.8}},"encoding":{"y":{"field":"q1","type":"quantitative","axis":null},"y2":{"field":"q3"},"color":{"field":"m","type":"nominal","scale":{"domain":["AE","VAE","GT"],"range":["#3274a1","#e1812c","#3a923a"]},"legend":null}}},
  {"mark":"tick","encoding":{"y":{"field":"lo","type":"quantitative","axis":null}}},
  {"mark":"tick","encoding":{"y":{"field":"hi","type":"quantitative","axis":null}}},
  {"mark":{"type":"tick","color":"#111111","size":27,"thickness":2.2},"encoding":{"y":{"field":"med","type":"quantitative","axis":null}}},
  {"mark":"point","encoding":{"y":{"field":"mean","type":"quantitative","axis":null}}}
 ],"resolve":{"axis":{"y":"independent"}}}
 ]}
],
"config": {
 "font": "DejaVu Sans",
 "view": {"stroke": "#262626", "strokeWidth": 1},
 "rule": {"color": "#555555", "strokeWidth": 1.7},
 "bar": {"stroke": "#474747", "strokeWidth": 2, "strokeOpacity": 0.9},
 "tick": {"color": "#555555", "size": 15, "thickness": 1.7},
 "point": {"shape": "triangle-up", "filled": true, "fill": "white", "stroke": "#0000ff", "strokeWidth": 1.5, "size": 45, "opacity": 1},
 "title": {"font": "DejaVu Sans", "fontWeight": "normal", "color": "#262626"},
 "axis": {"grid": false, "domain": false, "tickColor": "#262626", "tickSize": 4, "labelFont": "DejaVu Sans", "labelColor": "#262626", "titleFont": "DejaVu Sans", "titleFontWeight": "normal", "titleColor": "#262626", "labelPadding": 3},
 "axisLeft": {"labelFontSize": 12, "labelPadding": 5, "titleFontSize": 16.5, "titleAngle": 0, "titleAlign": "right", "titleBaseline": "middle", "titlePadding": 0, "minExtent": 0},
 "axisRight": {"labels": false, "ticks": false, "titleAngle": 90, "titleFontSize": 15, "titlePadding": 0, "minExtent": 0, "maxExtent": 0, "titleColor": "#262626"},
 "axisBottom": {"labelFontSize": 16.5, "labelAngle": 0, "labelPadding": 2}
}
}
